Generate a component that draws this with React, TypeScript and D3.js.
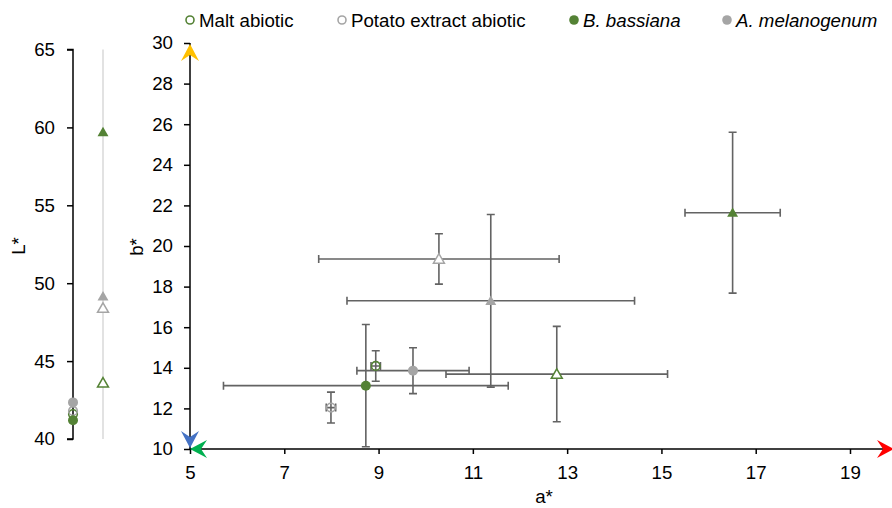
import { useEffect, useRef } from 'react';
import * as d3 from 'd3';

// treatments (legend order)
const groups = ['Malt abiotic', 'Potato extract abiotic', 'B. bassiana', 'A. melanogenum'];
const groupColors = ['#548235', '#A5A5A5', '#548235', '#A5A5A5'];
const groupFilled = [false, false, true, true];
const groupItalic = [false, false, true, true];

// circle markers
const aCircle = [8.94, 7.99, 8.73, 9.73];
const aCircleErr = [0.1, 0.1, 3.02, 1.19];
const bCircle = [14.09, 12.04, 13.12, 13.86];
const bCircleErr = [0.75, 0.76, 3.01, 1.13];
const lCircle = [41.6, 41.8, 41.2, 42.35];

// triangle markers
const aTri = [12.78, 10.28, 16.51, 11.38];
const aTriErr = [2.35, 2.55, 1.01, 3.05];
const bTri = [13.69, 19.36, 21.64, 17.3];
const bTriErr = [2.35, 1.24, 3.96, 4.25];
const lTri = [43.6, 48.4, 59.7, 49.15];

const aTicks = [5, 7, 9, 11, 13, 15, 17, 19];
const bTicks = [10, 12, 14, 16, 18, 20, 22, 24, 26, 28, 30];
const lTicks = [40, 45, 50, 55, 60, 65];

const W = 892;
const H = 508;
const FONT = 'Arial, "Liberation Sans", sans-serif';
const FS = 18.7;
const ERR = '#636363';

const App = () => {
  const svgRef = useRef<SVGSVGElement | null>(null);

  useEffect(() => {
    if (!svgRef.current) return;
    const svg = d3.select(svgRef.current);
    svg.selectAll('*').remove();

    const x = d3.scaleLinear().domain([5, 19]).range([190, 850]);
    const y = d3.scaleLinear().domain([10, 30]).range([449, 43]);
    const yL = d3.scaleLinear().domain([40, 65]).range([439, 49.5]);
    const lAxisX = 73;
    const lTriX = 103;

    // ---- L* panel ----
    svg.append('line')
      .attr('x1', lTriX).attr('x2', lTriX)
      .attr('y1', yL(65)).attr('y2', yL(40))
      .attr('stroke', '#D9D9D9').attr('stroke-width', 1.5);

    const lAxis = svg.append('g')
      .attr('transform', `translate(${lAxisX},0)`)
      .call(d3.axisLeft(yL).tickValues(lTicks).tickSize(6).tickPadding(12));
    lAxis.select('.domain').attr('stroke', '#000').attr('stroke-width', 1.5)
      .attr('d', `M-6,${yL(65)}H0V${yL(40)}H-6`);
    lAxis.selectAll('.tick line').attr('stroke', '#000').attr('stroke-width', 1.5);
    lAxis.selectAll('.tick text').attr('font-family', FONT).attr('font-size', FS).attr('fill', '#000');

    svg.append('text')
      .attr('transform', `translate(25,246) rotate(-90)`)
      .attr('text-anchor', 'middle')
      .attr('font-family', FONT).attr('font-size', FS)
      .text('L*');

    // ---- main a*/b* axes ----
    const xAxis = svg.append('g')
      .attr('transform', `translate(0,${y(10)})`)
      .call(d3.axisBottom(x).tickValues(aTicks).tickSize(5).tickPadding(12));
    xAxis.select('.domain').attr('stroke', '#000').attr('stroke-width', 1.5)
      .attr('d', `M${x(5)},0H${W}`);
    xAxis.selectAll('.tick line').attr('stroke', '#000').attr('stroke-width', 1.5);
    xAxis.selectAll('.tick text').attr('font-family', FONT).attr('font-size', FS).attr('fill', '#000');

    const yAxis = svg.append('g')
      .attr('transform', `translate(${x(5)},0)`)
      .call(d3.axisLeft(y).tickValues(bTicks).tickSize(6).tickPadding(11));
    yAxis.select('.domain').attr('stroke', '#000').attr('stroke-width', 1.5)
      .attr('d', `M0,${y(30)}V${y(10)}`);
    yAxis.selectAll('.tick line').attr('stroke', '#000').attr('stroke-width', 1.5);
    yAxis.selectAll('.tick text').attr('font-family', FONT).attr('font-size', FS).attr('fill', '#000');

    svg.append('text')
      .attr('transform', `translate(143,247) rotate(-90)`)
      .attr('text-anchor', 'middle')
      .attr('font-family', FONT).attr('font-size', FS)
      .text('b*');

    svg.append('text')
      .attr('x', 544).attr('y', 503)
      .attr('text-anchor', 'middle')
      .attr('font-family', FONT).attr('font-size', FS)
      .text('a*');

    // ---- error bars ----
    const pts = [
      ...groups.map((g, i) => ({ g: i, shape: 'circle', a: aCircle[i], ae: aCircleErr[i], b: bCircle[i], be: bCircleErr[i], l: lCircle[i] })),
      ...groups.map((g, i) => ({ g: i, shape: 'triangle', a: aTri[i], ae: aTriErr[i], b: bTri[i], be: bTriErr[i], l: lTri[i] })),
    ];

    const eb = svg.append('g').attr('stroke', ERR).attr('stroke-width', 1.6).attr('fill', 'none');
    const cap = 4;
    pts.forEach(p => {
      const cx = x(p.a), cy = y(p.b);
      const x0 = x(p.a - p.ae), x1 = x(p.a + p.ae);
      const y0 = y(p.b - p.be), y1 = y(p.b + p.be);
      eb.append('path').attr('d',
        `M${x0},${cy}H${x1}M${x0},${cy - cap}V${cy + cap}M${x1},${cy - cap}V${cy + cap}` +
        `M${cx},${y0}V${y1}M${cx - cap},${y0}H${cx + cap}M${cx - cap},${y1}H${cx + cap}`);
    });

    // ---- markers ----
    const tri = d3.symbol().type(d3.symbolTriangle).size(52);
    const drawMarker = (sel: any, p: any, px: number, py: number) => {
      const col = groupColors[p.g];
      const filled = groupFilled[p.g];
      if (p.shape === 'circle') {
        sel.append('circle')
          .attr('cx', px).attr('cy', py)
          .attr('r', filled ? 5 : 4.3)
          .attr('fill', filled ? col : '#fff')
          .attr('fill-opacity', filled ? 1 : 0)
          .attr('stroke', col).attr('stroke-width', filled ? 0 : 1.6);
      } else {
        sel.append('path')
          .attr('d', tri)
          .attr('transform', `translate(${px},${py + 1})`)
          .attr('fill', filled ? col : '#fff')
          .attr('stroke', col).attr('stroke-width', filled ? 0 : 1.5);
      }
    };

    const mk = svg.append('g');
    pts.forEach(p => drawMarker(mk, p, x(p.a), y(p.b)));

    const mkL = svg.append('g');
    pts.forEach(p => drawMarker(mkL, p, p.shape === 'circle' ? lAxisX : lTriX, yL(p.l)));

    // ---- arrows ----
    const arrow = (tx: number, ty: number, angle: number, color: string) => {
      svg.append('path')
        .attr('d', 'M0,0L-17,-9L-11,0L-17,9Z')
        .attr('transform', `translate(${tx},${ty}) rotate(${angle})`)
        .attr('fill', color);
    };
    arrow(x(5), y(30) + 1, -90, '#FFC000');
    arrow(x(5), y(10) - 1, 90, '#4472C4');
    arrow(x(5), y(10), 180, '#00B050');
    arrow(W + 2, y(10), 0, '#FF0000');

    // ---- legend ----
    const legendX = [190, 342, 574, 727];
    const leg = svg.append('g').attr('transform', 'translate(0,20)');
    groups.forEach((g, i) => {
      const col = groupColors[i];
      const filled = groupFilled[i];
      leg.append('circle')
        .attr('cx', legendX[i]).attr('cy', 0)
        .attr('r', filled ? 4.8 : 4)
        .attr('fill', filled ? col : '#fff')
        .attr('stroke', col).attr('stroke-width', filled ? 0 : 1.6);
      leg.append('text')
        .attr('x', legendX[i] + 9).attr('y', 0)
        .attr('dy', '0.35em')
        .attr('font-family', FONT).attr('font-size', FS)
        .attr('font-style', groupItalic[i] ? 'italic' : 'normal')
        .text(g);
    });
  }, []);

  return (
    <svg
      ref={svgRef}
      width={W}
      height={H}
      style={{ position: 'absolute', left: 0, top: 0, background: '#fff' }}
    />
  );
};

export default App;
